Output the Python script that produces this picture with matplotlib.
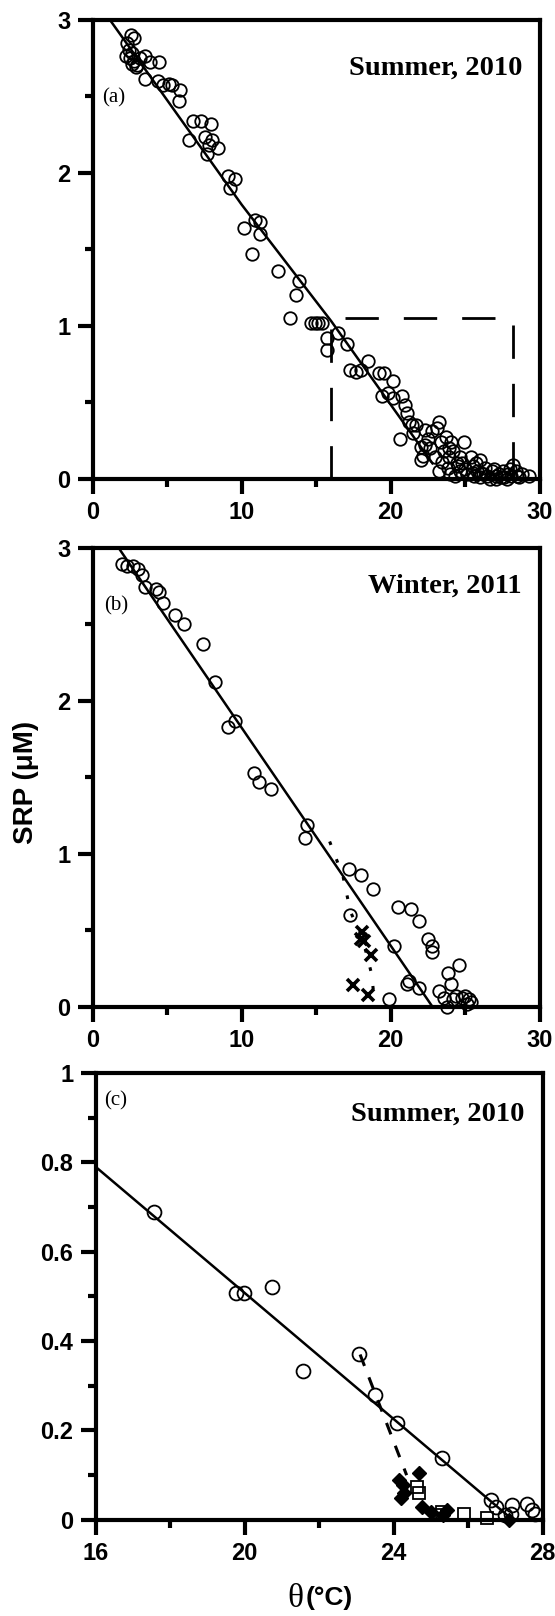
import numpy as np
import matplotlib.pyplot as plt
from matplotlib.ticker import MultipleLocator, FixedLocator

plt.rcParams['font.family'] = ['Liberation Sans', 'DejaVu Sans']

# ---- panel (a): Summer 2010, full range ----
a_temp = [2.57, 2.76, 2.33, 2.21, 2.52, 2.80, 3.16, 3.52, 3.87, 4.42, 2.92, 2.61,
          3.52, 4.35, 5.13, 5.30, 5.89, 5.77, 4.70, 6.72, 7.27, 7.91, 6.48, 7.55,
          8.03, 7.67, 8.38, 7.80, 9.10, 9.57, 9.22, 10.88, 11.24, 10.17, 11.24, 10.69,
          12.42, 13.85, 13.61, 13.25, 14.68, 14.92, 15.15, 15.40, 15.75, 15.75, 16.46, 17.05,
          17.29, 17.65, 18.00, 18.48, 19.20, 19.55, 20.14, 19.43, 19.79, 20.14, 20.74, 20.97,
          21.09, 21.21, 20.62, 21.69, 22.04, 22.16, 22.04, 22.76, 23.23, 23.10, 23.35, 23.70,
          24.06, 24.18, 24.90, 22.99, 23.47, 23.23, 23.82, 24.42, 24.66, 25.37, 25.13, 25.72,
          25.96, 25.60, 26.08, 26.44, 26.80, 27.03, 27.27, 27.50, 27.86, 28.22, 28.10, 28.46,
          29.29, 28.80, 26.68, 27.03, 24.30, 24.66, 23.90, 22.50, 22.30, 21.40, 22.30, 23.60,
          24.50, 25.00, 26.30, 27.60, 28.40, 26.00, 25.50, 21.50, 22.60, 23.90, 24.80, 25.50,
          26.20, 26.90, 27.40, 28.00, 28.60, 24.00, 25.80, 27.80, 2.45, 2.65, 3.00]
a_srp = [2.90, 2.88, 2.85, 2.76, 2.75, 2.73, 2.75, 2.76, 2.72, 2.72, 2.69, 2.71,
         2.61, 2.60, 2.58, 2.57, 2.54, 2.47, 2.57, 2.34, 2.34, 2.32, 2.21, 2.23,
         2.21, 2.12, 2.16, 2.18, 1.98, 1.96, 1.90, 1.69, 1.68, 1.64, 1.60, 1.47,
         1.36, 1.29, 1.20, 1.05, 1.02, 1.02, 1.02, 1.02, 0.92, 0.84, 0.95, 0.88,
         0.71, 0.70, 0.71, 0.77, 0.69, 0.69, 0.64, 0.54, 0.56, 0.53, 0.54, 0.48,
         0.43, 0.37, 0.26, 0.35, 0.21, 0.15, 0.12, 0.31, 0.37, 0.33, 0.24, 0.27,
         0.24, 0.18, 0.24, 0.14, 0.11, 0.05, 0.07, 0.10, 0.05, 0.14, 0.03, 0.10,
         0.12, 0.02, 0.04, 0.02, 0.05, 0.02, 0.03, 0.05, 0.03, 0.09, 0.02, 0.02,
         0.02, 0.03, 0.00, 0.00, 0.02, 0.14, 0.14, 0.26, 0.32, 0.35, 0.22, 0.18,
         0.08, 0.06, 0.07, 0.01, 0.05, 0.01, 0.04, 0.30, 0.20, 0.20, 0.10, 0.08,
         0.03, 0.06, 0.01, 0.06, 0.01, 0.03, 0.05, 0.00, 2.80, 2.78, 2.70]
a_fit_temp = [1.14, 10.0, 16.0, 22.8]
a_fit_srp = [3.0, 1.79, 1.03, 0.10]
box_temp = [16.0, 16.0, 28.2, 28.2]
box_srp = [0.0, 1.05, 1.05, 0.0]

# ---- panel (b): Winter 2011 ----
b_temp = [1.97, 2.33, 2.68, 3.04, 3.28, 3.52, 4.23, 4.47, 4.75, 5.53, 6.13, 7.43,
          8.19, 9.10, 9.57, 10.83, 11.16, 11.95, 14.39, 14.25, 17.17, 18.00, 18.84, 17.29,
          20.50, 21.33, 21.92, 22.52, 22.80, 22.76, 20.19, 21.21, 21.09, 21.92, 19.90, 23.82,
          24.60, 23.23, 24.06, 23.75, 23.60, 24.40, 24.80, 25.00, 25.25, 25.37, 25.10, 24.20]
b_srp = [2.89, 2.88, 2.88, 2.86, 2.82, 2.74, 2.73, 2.71, 2.64, 2.56, 2.50, 2.37,
         2.12, 1.83, 1.87, 1.53, 1.47, 1.42, 1.19, 1.10, 0.90, 0.86, 0.77, 0.60,
         0.65, 0.64, 0.56, 0.44, 0.40, 0.36, 0.40, 0.17, 0.15, 0.12, 0.05, 0.22,
         0.27, 0.10, 0.15, 0.00, 0.06, 0.07, 0.06, 0.07, 0.05, 0.03, 0.02, 0.05]
b_x_temp = [18.1, 18.0, 18.7, 17.5, 18.5, 18.2]
b_x_srp = [0.49, 0.44, 0.34, 0.14, 0.08, 0.43]
b_fit_temp = [1.73, 22.8]
b_fit_srp = [3.0, 0.0]
b_dot_temp = [15.9, 16.8, 17.3, 18.1, 18.7, 18.9]
b_dot_srp = [1.08, 0.85, 0.62, 0.45, 0.22, 0.05]

# ---- panel (c): Summer 2010, zoom on 16-28 degC ----
c_temp = [17.57, 19.76, 19.98, 20.74, 21.57, 23.07, 23.50, 24.08, 25.29, 26.62, 26.76,
          27.19, 27.57, 27.71, 27.81, 27.00, 27.14]
c_srp = [0.688, 0.507, 0.507, 0.521, 0.333, 0.371, 0.279, 0.216, 0.139, 0.045, 0.028,
         0.033, 0.036, 0.021, 0.013, 0.010, 0.013]
c_sq_temp = [24.67, 24.62, 25.29, 25.90, 26.52, 25.24]
c_sq_srp = [0.061, 0.073, 0.017, 0.013, 0.004, 0.010]
c_dia_temp = [24.14, 24.19, 24.29, 24.67, 24.76, 25.00, 25.43, 25.33, 24.24, 27.10]
c_dia_srp = [0.089, 0.049, 0.061, 0.105, 0.028, 0.017, 0.021, 0.010, 0.077, 0.000]
c_fit_temp = [16.0, 27.2]
c_fit_srp = [0.79, 0.0]
c_dash_temp = [23.1, 24.35]
c_dash_srp = [0.37, 0.10]

fig = plt.figure(figsize=(5.55, 16.16), dpi=100)
ax_a = fig.add_axes([0.1670, 0.7038, 0.8056, 0.2841])
ax_b = fig.add_axes([0.1670, 0.3770, 0.8056, 0.2841])
ax_c = fig.add_axes([0.1724, 0.0595, 0.8052, 0.2765])

circ = dict(ls='none', marker='o', ms=9, mfc='none', mec='k', mew=1.3, clip_on=False, zorder=3)

# (a)
ax_a.plot(a_temp, a_srp, **circ)
ax_a.plot(a_fit_temp, a_fit_srp, color='k', lw=1.8, zorder=2)
ax_a.plot(box_temp, box_srp, color='k', lw=2, dashes=(12, 9), zorder=2)

# (b)
ax_b.plot(b_temp, b_srp, **circ)
ax_b.plot(b_x_temp, b_x_srp, ls='none', marker='x', ms=9, mec='k', mew=2.6, zorder=3)
ax_b.plot(b_fit_temp, b_fit_srp, color='k', lw=1.8, zorder=2)
ax_b.plot(b_dot_temp, b_dot_srp, color='k', lw=2.2, dashes=(1.2, 5), zorder=2)

# (c)
ax_c.plot(c_temp, c_srp, **dict(circ, ms=10))
ax_c.plot(c_sq_temp, c_sq_srp, ls='none', marker='s', ms=9, mfc='none', mec='k',
          mew=1.3, zorder=3, clip_on=False)
ax_c.plot(c_dia_temp, c_dia_srp, ls='none', marker='D', ms=7.5, mfc='k', mec='k',
          zorder=4, clip_on=False)
ax_c.plot(c_fit_temp, c_fit_srp, color='k', lw=1.8, zorder=2)
ax_c.plot(c_dash_temp, c_dash_srp, color='k', lw=2.2, dashes=(4, 4), zorder=2)

for ax in (ax_a, ax_b):
    ax.set_xlim(0, 30)
    ax.set_ylim(0, 3)
    ax.xaxis.set_major_locator(FixedLocator([0, 10, 20, 30]))
    ax.xaxis.set_minor_locator(MultipleLocator(5))
    ax.yaxis.set_major_locator(FixedLocator([0, 1, 2, 3]))
    ax.yaxis.set_minor_locator(MultipleLocator(0.5))

ax_c.set_xlim(16, 28)
ax_c.set_ylim(0, 1)
ax_c.set_xticks([16, 20, 24, 28])
ax_c.xaxis.set_minor_locator(MultipleLocator(2))
ax_c.set_yticks([0, 0.2, 0.4, 0.6, 0.8, 1.0], ['0', '0.2', '0.4', '0.6', '0.8', '1'])
ax_c.yaxis.set_minor_locator(MultipleLocator(0.1))

for ax in (ax_a, ax_b, ax_c):
    for s in ax.spines.values():
        s.set_linewidth(3)
    ax.tick_params(which='major', direction='out', length=11, width=3, pad=5,
                   labelsize=17)
    ax.tick_params(which='minor', direction='out', length=6, width=3)
    for lab in ax.get_xticklabels() + ax.get_yticklabels():
        lab.set_fontweight('bold')

serif = ['Liberation Serif', 'DejaVu Serif']
ax_a.text(0.960, 0.879, 'Summer, 2010', transform=ax_a.transAxes, ha='right',
          va='baseline', family=serif, fontweight='bold', fontsize=20.5)
ax_a.text(0.022, 0.829, '(a)', transform=ax_a.transAxes, ha='left', va='center',
          family=serif, fontsize=15)
ax_b.text(0.960, 0.902, 'Winter, 2011', transform=ax_b.transAxes, ha='right',
          va='baseline', family=serif, fontweight='bold', fontsize=20.5)
ax_b.text(0.026, 0.874, '(b)', transform=ax_b.transAxes, ha='left', va='center',
          family=serif, fontsize=15)
ax_c.text(0.960, 0.893, 'Summer, 2010', transform=ax_c.transAxes, ha='right',
          va='baseline', family=serif, fontweight='bold', fontsize=20.5)
ax_c.text(0.020, 0.938, '(c)', transform=ax_c.transAxes, ha='left', va='center',
          family=serif, fontsize=15)

fig.text(0.046, 0.516, 'SRP (\u03bcM)', rotation=90, ha='center',
         va='center', fontsize=20, fontweight='bold')
fig.text(0.546, 0.0015, '\u03b8', ha='right', va='bottom',
         family=serif, fontsize=24)
fig.text(0.551, 0.011, '(\u00b0C)', ha='left', va='center',
         fontsize=19, fontweight='bold')

fig.savefig('out.png', dpi=100)
